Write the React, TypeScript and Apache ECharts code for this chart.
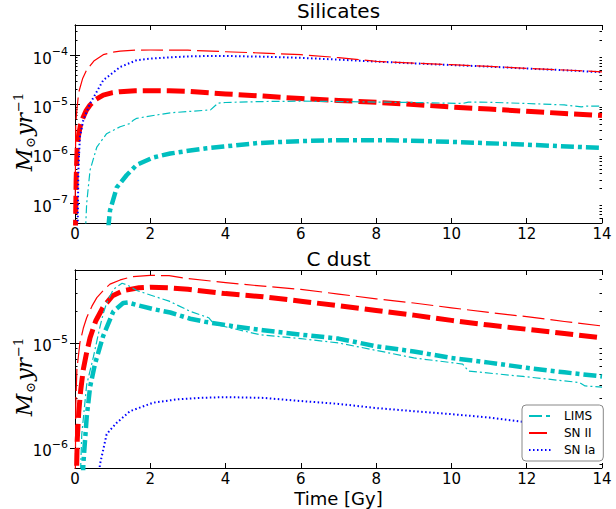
import React, { useEffect, useRef } from 'react';
import * as echarts from 'echarts';

const FONT = "'DejaVu Sans', sans-serif";
const SERIF = "'DejaVu Serif', serif";

// ---------- tick labels ----------
const xTicks = [0, 2, 4, 6, 8, 10, 12, 14];
const silYTicks = [1e-7, 1e-6, 1e-5, 1e-4];
const cYTicks = [1e-6, 1e-5];

// ---------- Silicates panel ----------
const silLimsT = [0.88, 0.93, 1.11, 1.37, 1.64, 2.08, 2.53, 3.06, 3.5, 3.95, 4.84, 6, 7, 8.4, 10.15, 11.9, 14];
const silLimsV = [3e-8, 7.2e-8, 2.1e-7, 3.7e-7, 6.0e-7, 8.5e-7, 1.02e-6, 1.17e-6, 1.3e-6, 1.41e-6, 1.66e-6, 1.82e-6, 1.9e-6, 1.9e-6, 1.74e-6, 1.55e-6, 1.32e-6];

const silLimsThinT = [0.28, 0.31, 0.4, 0.58, 0.84, 1.2, 1.45, 1.55, 1.64, 2.08, 2.53, 3.0, 3.6, 3.8, 4.0, 5, 6, 7, 8, 9, 10.3, 10.45, 11, 12, 13, 13.45, 13.6, 14];
const silLimsThinV = [3e-8, 1.0e-7, 4.7e-7, 1.38e-6, 2.57e-6, 3.55e-6, 4.1e-6, 4.8e-6, 5.25e-6, 6.0e-6, 6.8e-6, 7.2e-6, 7.8e-6, 1.07e-5, 1.1e-5, 1.15e-5, 1.17e-5, 1.15e-5, 1.12e-5, 1.1e-5, 1.05e-5, 1.12e-5, 1.11e-5, 1.05e-5, 9.8e-6, 9.0e-6, 9.3e-6, 9.3e-6];

const silSn2T = [0.01, 0.03, 0.06, 0.1, 0.15, 0.22, 0.3, 0.4, 0.55, 0.75, 1.0, 1.2, 1.6, 2.0, 2.5, 3.0, 4, 5, 6, 7, 8, 9, 10, 11, 12, 13, 14];
const silSn2V = [2e-8, 3e-7, 1.5e-6, 2.5e-6, 4e-6, 5.6e-6, 7.6e-6, 9.8e-6, 1.26e-5, 1.55e-5, 1.74e-5, 1.82e-5, 1.9e-5, 1.91e-5, 1.9e-5, 1.85e-5, 1.64e-5, 1.48e-5, 1.32e-5, 1.21e-5, 1.11e-5, 1.0e-5, 8.9e-6, 8.1e-6, 7.3e-6, 6.6e-6, 6.0e-6];

const silSn2ThinT = [0.005, 0.02, 0.05, 0.1, 0.2, 0.31, 0.5, 0.75, 1.0, 1.2, 1.6, 2.0, 3.0, 4, 5, 6, 7, 8, 9, 10, 11, 12, 13, 14];
const silSn2ThinV = [1e-7, 3.98e-6, 7.94e-6, 1.78e-5, 3.31e-5, 5.01e-5, 7.59e-5, 1.02e-4, 1.15e-4, 1.2e-4, 1.26e-4, 1.27e-4, 1.26e-4, 1.17e-4, 1.1e-4, 1.02e-4, 8.9e-5, 7.5e-5, 6.9e-5, 6.4e-5, 5.9e-5, 5.4e-5, 5.0e-5, 4.6e-5];

const silSn1aT = [0.07, 0.09, 0.13, 0.22, 0.4, 0.75, 1.2, 1.64, 2.0, 2.5, 3.0, 3.5, 4, 5, 6, 7, 8, 9, 10, 11, 12, 13, 14];
const silSn1aV = [3e-8, 4.7e-7, 2.2e-6, 4.8e-6, 1.05e-5, 3.1e-5, 5.75e-5, 7.9e-5, 8.5e-5, 9.0e-5, 9.4e-5, 9.6e-5, 9.6e-5, 9.3e-5, 8.8e-5, 8.1e-5, 7.4e-5, 6.8e-5, 6.3e-5, 5.85e-5, 5.35e-5, 4.95e-5, 4.5e-5];

// ---------- C dust panel ----------
const cLimsT = [0.2, 0.22, 0.31, 0.4, 0.53, 0.75, 1.02, 1.28, 1.4, 1.64, 2.08, 2.53, 3.06, 3.5, 4.4, 5, 6, 7, 8, 9, 10, 11, 12, 13, 14];
const cLimsV = [3e-7, 6.9e-7, 1.95e-6, 3.8e-6, 6.3e-6, 1.17e-5, 2.0e-5, 2.4e-5, 2.43e-5, 2.3e-5, 2.1e-5, 1.95e-5, 1.7e-5, 1.58e-5, 1.41e-5, 1.32e-5, 1.2e-5, 1.1e-5, 9.3e-6, 8.3e-6, 7.2e-6, 6.5e-6, 5.8e-6, 5.25e-6, 4.8e-6];

const cLimsThinT = [0.12, 0.18, 0.31, 0.49, 0.66, 0.75, 0.84, 1.02, 1.25, 1.4, 1.64, 2.08, 2.5, 3.06, 3.55, 3.7, 4.9, 6, 7, 8, 9, 10.3, 10.45, 11.9, 13.4, 13.55, 14];
const cLimsThinV = [3e-7, 1.35e-6, 4.0e-6, 7.4e-6, 1.41e-5, 1.9e-5, 2.4e-5, 3.24e-5, 3.7e-5, 3.55e-5, 3.16e-5, 2.8e-5, 2.5e-5, 2.0e-5, 1.74e-5, 1.51e-5, 1.2e-5, 1.1e-5, 1.0e-5, 8.5e-6, 7.2e-6, 6.3e-6, 5.4e-6, 4.8e-6, 4.2e-6, 3.9e-6, 3.8e-6];

const cSn2T = [0.03, 0.06, 0.1, 0.15, 0.22, 0.3, 0.4, 0.55, 0.75, 1.0, 1.3, 1.7, 2.0, 2.5, 3.0, 4, 5, 6, 7, 8, 9, 10, 11, 12, 13, 14];
const cSn2V = [4e-7, 1.2e-6, 2.2e-6, 3.5e-6, 5.6e-6, 7.8e-6, 1.12e-5, 1.62e-5, 2.2e-5, 2.82e-5, 3.16e-5, 3.35e-5, 3.4e-5, 3.35e-5, 3.24e-5, 2.95e-5, 2.75e-5, 2.5e-5, 2.26e-5, 2.04e-5, 1.84e-5, 1.64e-5, 1.48e-5, 1.35e-5, 1.23e-5, 1.12e-5];

const cSn2ThinT = [0.005, 0.02, 0.05, 0.13, 0.22, 0.31, 0.45, 0.58, 0.75, 0.93, 1.2, 1.5, 2.0, 2.5, 3.0, 4, 5, 6, 7, 8, 9, 10, 11, 12, 13, 14];
const cSn2ThinV = [3e-7, 2.5e-6, 5.6e-6, 1.0e-5, 1.38e-5, 1.74e-5, 2.24e-5, 2.7e-5, 3.16e-5, 3.63e-5, 3.98e-5, 4.27e-5, 4.4e-5, 4.37e-5, 4.1e-5, 3.76e-5, 3.47e-5, 3.24e-5, 2.92e-5, 2.63e-5, 2.4e-5, 2.16e-5, 1.95e-5, 1.78e-5, 1.6e-5, 1.45e-5];

const cSn1aT = [0.6, 0.66, 0.84, 0.93, 1.11, 1.46, 2.08, 2.7, 3.3, 4, 5, 6, 7, 8, 9, 10, 11, 12, 13, 14];
const cSn1aV = [3e-7, 6.9e-7, 1.35e-6, 1.48e-6, 1.74e-6, 2.24e-6, 2.7e-6, 2.9e-6, 3.0e-6, 3.05e-6, 3.0e-6, 2.8e-6, 2.63e-6, 2.4e-6, 2.24e-6, 2.1e-6, 1.95e-6, 1.76e-6, 1.58e-6, 1.45e-6];

const legendNames = ['LIMS', 'SN II', 'SN Ia'];

const CYAN = '#00BFBF';
const RED = '#FF0000';
const BLUE = '#0000FF';

const zip = (t: number[], v: number[]) => t.map((x, i) => [x, v[i]]);

function minorValues(eLo: number, eHi: number): number[] {
  const out: number[] = [];
  for (let e = eLo; e <= eHi; e++) {
    for (let k = 2; k <= 9; k++) out.push(parseFloat((k * Math.pow(10, e)).toPrecision(3)));
  }
  return out;
}

const yLabelRich = {
  b: { fontSize: 15, lineHeight: 15, fontFamily: FONT, color: '#000', verticalAlign: 'middle', padding: [7, 0, 0, 0] },
  s: { fontSize: 11, lineHeight: 11, fontFamily: FONT, color: '#000', verticalAlign: 'middle', padding: [2, 0, 9, 0] },
};

const nameRich = {
  m: { fontFamily: SERIF, fontStyle: 'italic', fontSize: 22, lineHeight: 22, color: '#000', verticalAlign: 'middle' },
  o: { fontFamily: SERIF, fontSize: 13, lineHeight: 13, color: '#000', verticalAlign: 'middle', padding: [12, 1, 0, 1] },
  p: { fontFamily: SERIF, fontSize: 13, lineHeight: 13, color: '#000', verticalAlign: 'middle', padding: [0, 0, 12, 1] },
};

function buildYAxes(gridIndex: number, min: number, max: number, ticks: number[], minor: number[]) {
  const base = {
    type: 'log',
    logBase: 10,
    gridIndex,
    min,
    max,
    nameMoveOverlap: false,
    splitLine: { show: false },
    axisLine: { show: true, lineStyle: { color: '#000', width: 1 } },
  };
  return [
    {
      ...base,
      position: 'left',
      name: '{m|M}{o|⊙}{m|yr}{p|−1}',
      nameLocation: 'middle',
      nameRotate: 90,
      nameGap: 40,
      nameTextStyle: { rich: nameRich, padding: [0, 16, 0, 0] },
      axisTick: { show: true, inside: true, length: 5, customValues: ticks, lineStyle: { color: '#000' } },
      axisLabel: {
        show: true,
        margin: 7,
        customValues: ticks,
        formatter: (v: number) => `{b|10}{s|−${Math.round(-Math.log10(v))}}`,
        rich: yLabelRich,
      },
    },
    {
      ...base,
      position: 'right',
      axisTick: { show: true, inside: true, length: 5, customValues: ticks, lineStyle: { color: '#000' } },
      axisLabel: { show: false },
    },
    {
      ...base,
      position: 'left',
      axisLine: { show: false },
      axisTick: { show: true, inside: true, length: 2.5, customValues: minor, lineStyle: { color: '#000' } },
      axisLabel: { show: false },
    },
    {
      ...base,
      position: 'right',
      axisLine: { show: false },
      axisTick: { show: true, inside: true, length: 2.5, customValues: minor, lineStyle: { color: '#000' } },
      axisLabel: { show: false },
    },
  ];
}

function buildXAxes(gridIndex: number, title: string, titleGap: number, bottomName: string) {
  const base = {
    type: 'value',
    gridIndex,
    min: 0,
    max: 14,
    interval: 2,
    nameMoveOverlap: false,
    splitLine: { show: false },
    axisLine: { show: true, lineStyle: { color: '#000', width: 1 } },
    axisTick: { show: true, inside: true, length: 5, customValues: xTicks, lineStyle: { color: '#000' } },
  };
  return [
    {
      ...base,
      position: 'bottom',
      name: bottomName,
      nameLocation: 'middle',
      nameGap: 21,
      nameTextStyle: { fontFamily: FONT, fontSize: 18, lineHeight: 18, color: '#000' },
      axisLabel: { show: true, margin: 4, fontFamily: FONT, fontSize: 15, lineHeight: 13, color: '#000', customValues: xTicks },
    },
    {
      ...base,
      position: 'top',
      name: title,
      nameLocation: 'middle',
      nameGap: titleGap,
      nameTextStyle: { fontFamily: FONT, fontSize: 20, color: '#000', verticalAlign: 'bottom' },
      axisLabel: { show: false },
    },
  ];
}

function line(name: string, t: number[], v: number[], color: string, width: number, dash: number[], xi: number, yi: number, z: number) {
  return {
    type: 'line',
    name,
    data: zip(t, v),
    xAxisIndex: xi,
    yAxisIndex: yi,
    showSymbol: false,
    symbol: 'none',
    silent: true,
    clip: true,
    z,
    itemStyle: { color },
    lineStyle: { color, width, type: dash, cap: 'butt', join: 'round' },
    emphasis: { disabled: true },
  };
}

const DASH_LIMS = [13, 4, 4, 4];
const DASH_LIMS_THIN = [8, 3, 2, 3];
const DASH_SN2 = [18, 6];
const DASH_SN2_THIN = [22, 6];
const DOT = [1.5, 2.5];

export default function App() {
  const ref = useRef<HTMLDivElement>(null);
  useEffect(() => {
    if (!ref.current) return;
    const chart = echarts.init(ref.current, undefined, { renderer: 'svg' });
    const option = {
      animation: false,
      backgroundColor: '#fff',
      grid: [
        { left: 75, top: 25, width: 527, height: 198, outerBoundsMode: 'none', containLabel: false },
        { left: 75, top: 270, width: 527, height: 198, outerBoundsMode: 'none', containLabel: false },
      ],
      xAxis: [...buildXAxes(0, 'Silicates', 4, ''), ...buildXAxes(1, 'C dust', 1, 'Time [Gy]')],
      yAxis: [
        ...buildYAxes(0, 4e-8, 4.07e-4, silYTicks, minorValues(-8, -4)),
        ...buildYAxes(1, 6.45e-7, 4.95e-5, cYTicks, minorValues(-7, -5)),
      ],
      legend: {
        data: legendNames,
        orient: 'vertical',
        left: 522,
        top: 405,
        itemWidth: 24,
        itemHeight: 12,
        itemGap: 5,
        padding: [5, 8, 5, 6],
        backgroundColor: '#fff',
        borderColor: '#888',
        borderWidth: 1,
        borderRadius: 4,
        selectedMode: false,
        itemStyle: { opacity: 0 },
        textStyle: { fontFamily: FONT, fontSize: 12, color: '#000', padding: [0, 0, 0, 6] },
      },
      series: [
        line('LIMS', silLimsT, silLimsV, CYAN, 4.5, DASH_LIMS, 0, 0, 2),
        line('SN II', silSn2T, silSn2V, RED, 5, DASH_SN2, 0, 0, 2),
        line('SN Ia', silSn1aT, silSn1aV, BLUE, 2, DOT, 0, 0, 3),
        line('LIMS thin', silLimsThinT, silLimsThinV, CYAN, 1.2, DASH_LIMS_THIN, 0, 0, 4),
        line('SN II thin', silSn2ThinT, silSn2ThinV, RED, 1.2, DASH_SN2_THIN, 0, 0, 4),
        line('LIMS', cLimsT, cLimsV, CYAN, 4.5, DASH_LIMS, 2, 4, 2),
        line('SN II', cSn2T, cSn2V, RED, 5, DASH_SN2, 2, 4, 2),
        line('SN Ia', cSn1aT, cSn1aV, BLUE, 2, DOT, 2, 4, 3),
        line('LIMS thin', cLimsThinT, cLimsThinV, CYAN, 1.2, DASH_LIMS_THIN, 2, 4, 4),
        line('SN II thin', cSn2ThinT, cSn2ThinV, RED, 1.2, DASH_SN2_THIN, 2, 4, 4),
      ],
    };
    chart.setOption(option as any);
    return () => chart.dispose();
  }, []);
  return (
    <div
      ref={ref}
      style={{ position: 'absolute', left: 0, top: 0, width: 616, height: 509, background: '#fff' }}
    />
  );
}
